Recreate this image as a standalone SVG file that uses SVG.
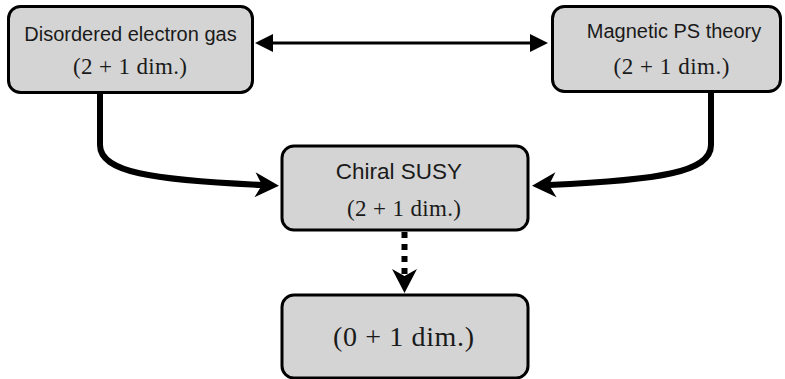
<svg xmlns="http://www.w3.org/2000/svg" width="785" height="379" viewBox="0 0 785 379">
<style>
.box{fill:#d4d4d4;stroke:#000;stroke-width:3}
.sans{font-family:"Liberation Sans",Arial,sans-serif;fill:#1a1a1a;text-anchor:middle}
.math{font-family:"Liberation Serif","Times New Roman",serif;fill:#1a1a1a;text-anchor:middle}
.thin{fill:none;stroke:#000;stroke-width:3}
.thick{fill:none;stroke:#000;stroke-width:6}
.dotted{fill:none;stroke:#000;stroke-width:6;stroke-dasharray:6 6}
</style>
<defs>
<marker id="tri" markerUnits="userSpaceOnUse" viewBox="-2 -12 24 24" refX="0" refY="0" markerWidth="24" markerHeight="24" orient="auto-start-reverse" overflow="visible">
<path d="M-1,-9 L17,0 L-1,9 Z" fill="#000"/>
</marker>
<marker id="stealth" markerUnits="userSpaceOnUse" viewBox="-10 -15 30 30" refX="0" refY="0" markerWidth="30" markerHeight="30" orient="auto" overflow="visible">
<path d="M-7,-12.5 L17,0 L-7,12.5 L0,0 Z" fill="#000"/>
</marker>
</defs>
<g id="connectors">
<path class="thin" d="M272,43 H531" marker-start="url(#tri)" marker-end="url(#tri)"/>
<path class="thick" d="M100,93 V145 C100,172 151,180 262,185" marker-end="url(#stealth)"/>
<path class="thick" d="M711,92 V145 C711,172 660,180 549,185" marker-end="url(#stealth)"/>
<path class="dotted" d="M404.5,232 V276" marker-end="url(#stealth)"/>
</g>
<g id="node-disordered">
<rect class="box" x="8.5" y="6.5" width="244" height="86" rx="12"/>
<text class="sans" x="130.5" y="41" font-size="20">Disordered electron gas</text>
<text class="math" x="130" y="74" font-size="23" textLength="114" lengthAdjust="spacing">(2 + 1 dim.)</text>
</g>
<g id="node-magnetic">
<rect class="box" x="552.5" y="6.5" width="228" height="85" rx="12"/>
<text class="sans" x="674" y="38" font-size="20">Magnetic PS theory</text>
<text class="math" x="671.5" y="74" font-size="23" textLength="116" lengthAdjust="spacing">(2 + 1 dim.)</text>
</g>
<g id="node-chiral">
<rect class="box" x="282" y="146" width="246" height="84" rx="12"/>
<text class="sans" x="399" y="179" font-size="22.5">Chiral SUSY</text>
<text class="math" x="404" y="216" font-size="23" textLength="114" lengthAdjust="spacing">(2 + 1 dim.)</text>
</g>
<g id="node-zero">
<rect class="box" x="282" y="295" width="246" height="83" rx="12"/>
<text class="math" x="403.5" y="346" font-size="28" textLength="141" lengthAdjust="spacing">(0 + 1 dim.)</text>
</g>
</svg>
